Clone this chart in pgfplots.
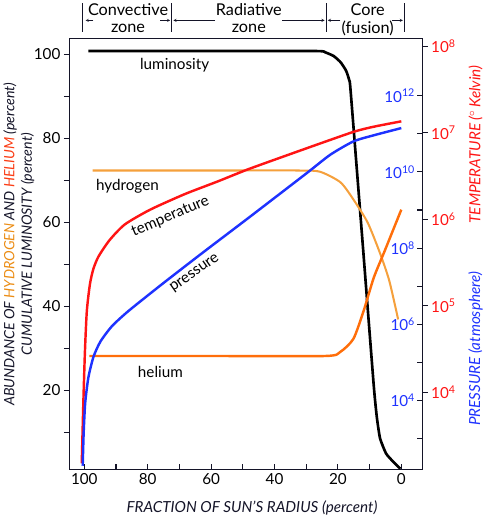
\documentclass[border=0pt]{standalone}
\usepackage{pgfplots}
\pgfplotsset{compat=1.18}
\usepackage{fontspec}
\setmainfont{Lato}
\newcommand\fs[1]{\fontsize{#1}{#1}\selectfont}

\definecolor{hcol}{RGB}{245,160,60}
\definecolor{hecol}{RGB}{255,110,10}
\definecolor{tred}{RGB}{255,20,20}
\definecolor{pblue}{RGB}{30,50,255}
\definecolor{frame}{RGB}{20,20,40}
\definecolor{hlab}{RGB}{235,140,20}
\definecolor{helab}{RGB}{250,60,20}

\pgfplotsset{
  base/.style={
    width=348pt, height=424pt, scale only axis,
    x dir=reverse, xmin=-6.7, xmax=104.8,
    axis line style={frame, line width=1pt},
    every tick/.style={frame, line width=1pt},
    major tick length=5pt, minor tick length=5pt,
    ticklabel style={font=\fs{15}},
  },
}

\begin{document}
\begin{tikzpicture}
% left axis: abundance and luminosity
\begin{axis}[
  base,
  ymin=1.2, ymax=103.6,
  clip=false,
  xtick={0,20,...,100}, minor xtick={10,30,...,90},
  ytick={20,40,...,100}, minor ytick={10,30,...,90},
  xtick pos=bottom, ytick pos=left,
  xtick align=inside, ytick align=outside,
  /pgf/number format/assume math mode=true,
]
% luminosity
\addplot[black, line width=2.6pt, smooth, tension=0.3] coordinates {
  (98.7,100.7) (60,100.7) (26.6,100.7) (24.0,100.4) (21.3,99.5) (19.1,98.0)
  (17.4,96.0) (16.4,93.7) (16.0,91.3) (12.3,56) (8.7,21.2) (7.7,13.5) (6.7,8.6)
  (4.8,5.0) (2.6,3.1) (0.3,1.4)
};
% hydrogen
\addplot[hcol, line width=2pt, smooth, tension=0.4] coordinates {
  (97.4,72.3) (60,72.3) (32.1,72.3) (25.6,72.0) (19.2,69.5) (15.1,65.4)
  (10.6,59.9) (6.7,52.6) (3.8,46.1) (1.0,36.9)
};
% helium
\addplot[hecol, line width=2.4pt, smooth, tension=0.4] coordinates {
  (98.4,28.2) (60,28.2) (24.0,28.2) (19.2,29.2) (15.1,32.3) (11.9,38.9)
  (8.7,46.8) (5.4,52.9) (0,63.0)
};

\node[font=\fs{15}] at (axis cs:71.5,97.3) {luminosity};
\node[font=\fs{15}, anchor=west] at (axis cs:97.4,68.6) {hydrogen};
\node[font=\fs{15}, rotate=23] at (axis cs:72.8,61.3) {temperature};
\node[font=\fs{15}, rotate=35] at (axis cs:65.1,47.8) {pressure};
\node[font=\fs{15}] at (axis cs:76,24.4) {helium};

% zones above the plot
\draw[frame, line width=1pt] (axis cs:100.6,105.3) -- (axis cs:100.6,112.1);
\draw[frame, line width=1pt] (axis cs:72.4,105.3) -- (axis cs:72.4,112.1);
\draw[frame, line width=1pt] (axis cs:23.7,105.3) -- (axis cs:23.7,112.1);
\draw[frame, line width=1pt] (axis cs:-1.0,105.3) -- (axis cs:-1.0,112.1);
\draw[frame, ->, >=stealth] (axis cs:97.1,108) -- (axis cs:99.6,108);
\draw[frame, ->, >=stealth] (axis cs:76.0,108) -- (axis cs:72.9,108);
\draw[frame, ->, >=stealth] (axis cs:58.7,108) -- (axis cs:71.9,108);
\draw[frame, ->, >=stealth] (axis cs:37.5,108) -- (axis cs:24.2,108);
\draw[frame, ->, >=stealth] (axis cs:19.2,108) -- (axis cs:23.2,108);
\draw[frame, ->, >=stealth] (axis cs:2.8,108) -- (axis cs:-0.5,108);
\node[font=\fs{16}] at (axis cs:86.2,110.6) {Convective};
\node[font=\fs{16}] at (axis cs:86.2,106.0) {zone};
\node[font=\fs{16}] at (axis cs:48.1,110.6) {Radiative};
\node[font=\fs{16}] at (axis cs:48.1,106.0) {zone};
\node[font=\fs{16}] at (axis cs:10.6,110.6) {Core};
\node[font=\fs{16}] at (axis cs:10.6,106.0) {(fusion)};

% axis titles
\node[font=\fs{15}\itshape, text=frame] at (axis cs:47.1,-7.8)
  {FRACTION OF SUN'S RADIUS (percent)};
\node[font=\fs{14}\itshape, text=frame, rotate=90] at (axis cs:123.4,54.8)
  {ABUNDANCE OF \textcolor{hlab}{HYDROGEN} AND \textcolor{helab}{HELIUM} (percent)};
\node[font=\fs{14}\itshape, text=frame, rotate=90] at (axis cs:117.9,54.8)
  {CUMULATIVE LUMINOSITY (percent)};
\node[font=\fs{15}\itshape, text=tred, rotate=90] at (axis cs:-23.4,78.5)
  {TEMPERATURE ($^\circ$\,Kelvin)};
\node[font=\fs{15}\itshape, text=pblue, rotate=90] at (axis cs:-23.4,29.9)
  {PRESSURE (atmosphere)};
\end{axis}

% temperature axis (outer right)
\begin{axis}[
  base,
  ymode=log, ymin=1285, ymax=1.21e8,
  axis x line=none, axis y line*=right,
  ytick={1e4,1e5,1e6,1e7,1e8},
  yticklabels={10\textsuperscript{4},10\textsuperscript{5},10\textsuperscript{6},10\textsuperscript{7},10\textsuperscript{8}},
  yminorticks=false,
  ytick align=outside,
  yticklabel style={text=tred},
]
\addplot[tred, line width=2.4pt, smooth, tension=0.4] coordinates {
  (100.8,1510) (100.3,7600) (99.8,29500) (99.2,87100) (98.2,180000)
  (97.1,269000) (95.5,372000) (92.0,575000) (87.2,871000) (79.2,1.29e6)
  (68.3,1.95e6) (57.7,2.75e6) (48.1,3.80e6) (29.8,6.61e6) (15.1,1.02e7)
  (8.7,1.17e7) (0,1.35e7)
};
\end{axis}

% pressure axis (inner right)
\begin{axis}[
  base,
  ymode=log, ymin=155, ymax=3.09e13,
  axis x line=none, axis y line*=right,
  ytick={1e4,1e6,1e8,1e10,1e12},
  yticklabels={10\textsuperscript{4},10\textsuperscript{6},10\textsuperscript{8},10\textsuperscript{10},10\textsuperscript{12}},
  extra y ticks={1e3,1e5,1e7,1e9,1e11},
  extra y tick labels={},
  yminorticks=false,
  ytick align=inside,
  yticklabel style={text=pblue, anchor=east, xshift=-4pt},
]
\addplot[pblue, line width=2.4pt, smooth, tension=0.4] coordinates {
  (100.5,195) (100.2,1410) (99.7,8900) (98.7,40700) (97.1,141000)
  (94.9,355000) (91.3,891000) (86.5,2.09e6) (80.1,5.62e6) (73.7,1.48e7)
  (62.5,7.76e7) (48.1,6.31e8) (29.8,9.33e9) (22.4,2.82e10) (15.1,6.31e10)
  (8.7,9.12e10) (0,1.41e11)
};
\end{axis}
\end{tikzpicture}
\end{document}
